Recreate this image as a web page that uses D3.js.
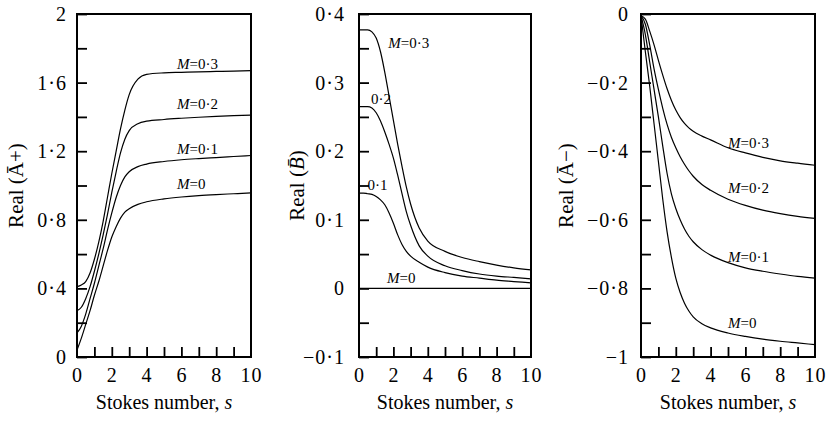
<!DOCTYPE html>
<html>
<head>
<meta charset="utf-8">
<script src="https://cdn.jsdelivr.net/npm/d3@7"></script>
<style>
  body { margin: 0; background: #fff; }
  svg { display: block; font-family: "Liberation Serif", "Times New Roman", serif; }
  .curve { fill: none; stroke: #000; stroke-width: 1.2; }
</style>
</head>
<body>
<div id="chart"></div>
<script>
// Stokes number grid shared by all curves
var sValues = [0, 0.25, 0.5, 0.75, 1, 1.25, 1.5, 1.75, 2, 2.25, 2.5, 2.75, 3, 3.5, 4, 5, 6, 7, 8, 9, 10];

// Real(A+)
var aPlusM0  = [0.04, 0.11, 0.19, 0.27, 0.36, 0.44, 0.53, 0.62, 0.70, 0.76, 0.81, 0.845, 0.865, 0.89, 0.905, 0.922, 0.933, 0.941, 0.947, 0.952, 0.957];
var aPlusM01 = [0.14, 0.18, 0.25, 0.34, 0.43, 0.53, 0.63, 0.74, 0.84, 0.93, 1.0, 1.05, 1.08, 1.11, 1.125, 1.14, 1.15, 1.157, 1.163, 1.169, 1.175];
var aPlusM02 = [0.27, 0.29, 0.34, 0.41, 0.5, 0.6, 0.71, 0.83, 0.96, 1.08, 1.19, 1.27, 1.32, 1.36, 1.375, 1.385, 1.392, 1.398, 1.403, 1.407, 1.41];
var aPlusM03 = [0.41, 0.42, 0.44, 0.49, 0.57, 0.67, 0.79, 0.93, 1.07, 1.2, 1.33, 1.44, 1.53, 1.62, 1.648, 1.657, 1.66, 1.663, 1.665, 1.667, 1.67];

// Real(B)
var bM0  = [0, 0, 0, 0, 0, 0, 0, 0, 0, 0, 0, 0, 0, 0, 0, 0, 0, 0, 0, 0, 0];
var bM01 = [0.139, 0.139, 0.138, 0.137, 0.134, 0.129, 0.122, 0.11, 0.095, 0.078, 0.064, 0.054, 0.047, 0.038, 0.031, 0.023, 0.018, 0.015, 0.012, 0.01, 0.008];
var bM02 = [0.265, 0.265, 0.265, 0.263, 0.256, 0.244, 0.228, 0.21, 0.19, 0.165, 0.138, 0.112, 0.092, 0.062, 0.047, 0.033, 0.026, 0.021, 0.018, 0.016, 0.014];
var bM03 = [0.377, 0.377, 0.377, 0.374, 0.365, 0.345, 0.315, 0.28, 0.245, 0.21, 0.178, 0.148, 0.123, 0.088, 0.069, 0.054, 0.045, 0.039, 0.034, 0.03, 0.027];

// Real(A-)
var aMinusM0  = [-0.005, -0.11, -0.21, -0.32, -0.43, -0.54, -0.635, -0.71, -0.77, -0.812, -0.843, -0.866, -0.883, -0.903, -0.915, -0.93, -0.94, -0.948, -0.954, -0.959, -0.964];
var aMinusM01 = [-0.005, -0.06, -0.14, -0.22, -0.3, -0.385, -0.465, -0.525, -0.567, -0.6, -0.627, -0.648, -0.664, -0.687, -0.703, -0.725, -0.74, -0.75, -0.758, -0.765, -0.77];
var aMinusM02 = [-0.005, -0.03, -0.09, -0.16, -0.22, -0.275, -0.322, -0.36, -0.39, -0.416, -0.438, -0.457, -0.473, -0.497, -0.514, -0.54, -0.558, -0.572, -0.582, -0.59, -0.596];
var aMinusM03 = [-0.005, -0.015, -0.05, -0.09, -0.135, -0.178, -0.218, -0.252, -0.28, -0.302, -0.319, -0.332, -0.342, -0.356, -0.367, -0.39, -0.405, -0.418, -0.428, -0.435, -0.441];

// curve label anchors [s, value, text, italic M?]
var aPlusLabels  = [[5.75, 0.977, "0", true], [5.75, 1.186, "0·1", true], [5.75, 1.448, "0·2", true], [5.75, 1.68, "0·3", true]];
var bLabels      = [[1.63, 0.008, "0", true], [0.5, 0.143, "0·1", false], [0.7, 0.269, "0·2", false], [1.7, 0.35, "0·3", true]];
var aMinusLabels = [[5.0, -0.915, "0", true], [5.0, -0.723, "0·1", true], [5.0, -0.522, "0·2", true], [5.0, -0.39, "0·3", true]];

var xTicks = [0, 2, 4, 6, 8, 10];

var svg = d3.select("#chart").append("svg")
	.attr("width", 828)
	.attr("height", 424);

var plotTop = 14, plotBottom = 357;

function fmt(v) {
	var t = Math.abs(v - Math.round(v)) < 1e-9 ? String(Math.round(v)) : d3.format(".1f")(v);
	return t.replace(".", "·").replace("-", "\u2212");
}

function styleLabels(a) {
	a.select(".domain").remove();
	a.attr("font-family", null).attr("font-size", null);
	a.selectAll("text")
		.attr("font-family", "Liberation Serif")
		.attr("font-size", 20)
		.attr("letter-spacing", 1)
		.attr("fill", "#000");
}

function panel(opts) {
	var x = d3.scaleLinear().domain([0, 10]).range([opts.left, opts.right]);
	var y = d3.scaleLinear().domain(opts.yDomain).range([plotBottom, plotTop]);

	var g = svg.append("g");

	// minor ticks (inside)
	g.append("g")
		.attr("transform", "translate(" + opts.left + ",0)")
		.call(d3.axisLeft(y).tickValues(d3.range(opts.yDomain[0], opts.yDomain[1] + 1e-9, opts.minor)).tickSize(-10).tickFormat(""))
		.call(function(a) { a.select(".domain").remove(); a.selectAll("line").attr("stroke-width", 1.8); });

	// labelled y ticks
	g.append("g")
		.attr("transform", "translate(" + opts.left + ",0)")
		.call(d3.axisLeft(y).tickValues(opts.yTicks).tickSize(0).tickPadding(opts.pad).tickFormat(fmt))
		.call(styleLabels);

	// x ticks
	g.append("g")
		.attr("transform", "translate(0," + plotBottom + ")")
		.call(d3.axisBottom(x).tickValues(d3.range(1, 10)).tickSize(-10).tickFormat(""))
		.call(function(a) { a.select(".domain").remove(); a.selectAll("line").attr("stroke-width", 1.8); });

	g.append("g")
		.attr("transform", "translate(0," + plotBottom + ")")
		.call(d3.axisBottom(x).tickValues(xTicks).tickSize(0).tickPadding(11).tickFormat(fmt))
		.call(styleLabels);

	// frame
	g.append("rect")
		.attr("x", opts.left).attr("y", plotTop)
		.attr("width", opts.right - opts.left).attr("height", plotBottom - plotTop)
		.attr("fill", "none").attr("stroke", "#000").attr("stroke-width", 2);

	var line = d3.line()
		.x(function(d) { return x(d[0]); })
		.y(function(d) { return y(d[1]); })
		.curve(d3.curveMonotoneX);

	opts.series.forEach(function(vals) {
		g.append("path")
			.attr("class", "curve")
			.attr("d", line(sValues.map(function(s, i) { return [s, vals[i]]; })));
	});

	opts.labels.forEach(function(l) {
		var t = g.append("text")
			.attr("x", x(l[0])).attr("y", y(l[1]))
			.attr("font-size", 15);
		if (l[3]) {
			t.append("tspan").attr("font-style", "italic").text("M");
			t.append("tspan").text("=" + l[2]);
		} else {
			t.text(l[2]);
		}
	});

	// axis titles
	g.append("text")
		.attr("x", (opts.left + opts.right) / 2).attr("y", 409)
		.attr("text-anchor", "middle").attr("font-size", 20)
		.html("Stokes number, <tspan font-style='italic'>s</tspan>");

	var yt = g.append("text")
		.attr("transform", "translate(" + opts.titleX + "," + ((plotTop + plotBottom) / 2) + ") rotate(-90)")
		.attr("text-anchor", "middle").attr("dy", "0.35em").attr("font-size", 21);
	yt.append("tspan").text("Real (");
	yt.append("tspan").attr("font-style", opts.italicSym ? "italic" : "normal").text(opts.sym + "\u0304");
	yt.append("tspan").text(opts.suffix + ")");
}

panel({
	left: 77, right: 251, yDomain: [0, 2], minor: 0.2, yTicks: [0, 0.4, 0.8, 1.2, 1.6, 2], pad: 10,
	series: [aPlusM0, aPlusM01, aPlusM02, aPlusM03], labels: aPlusLabels,
	titleX: 16, sym: "A", italicSym: false, suffix: "+"
});

panel({
	left: 359, right: 531, yDomain: [-0.1, 0.4], minor: 0.05, yTicks: [-0.1, 0, 0.1, 0.2, 0.3, 0.4], pad: 14,
	series: [bM0, bM01, bM02, bM03], labels: bLabels,
	titleX: 297, sym: "B", italicSym: true, suffix: ""
});

panel({
	left: 641, right: 815, yDomain: [-1, 0], minor: 0.1, yTicks: [-1, -0.8, -0.6, -0.4, -0.2, 0], pad: 12,
	series: [aMinusM0, aMinusM01, aMinusM02, aMinusM03], labels: aMinusLabels,
	titleX: 566, sym: "A", italicSym: false, suffix: "\u2212"
});
</script>
</body>
</html>
